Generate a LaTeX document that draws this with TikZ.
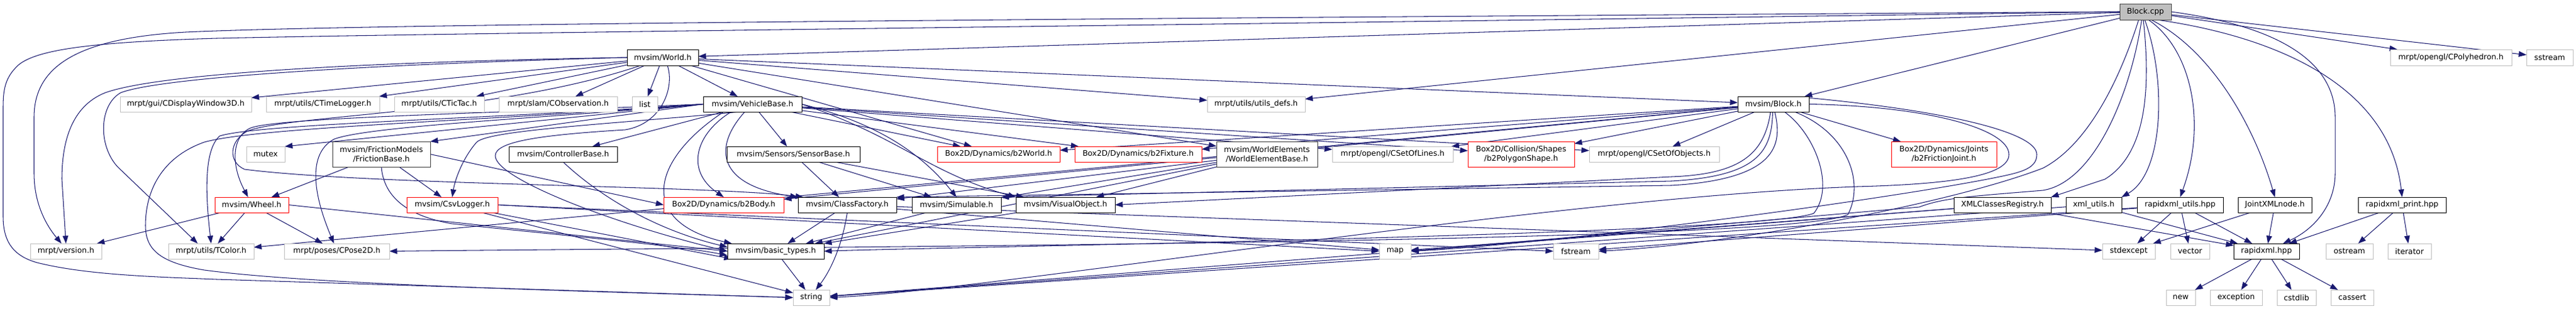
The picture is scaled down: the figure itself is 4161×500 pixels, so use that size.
\documentclass[tikz,border=0pt]{standalone}
\usepackage{fontspec}
\setmainfont{DejaVu Sans}
\usetikzlibrary{arrows.meta,backgrounds}
\definecolor{navy}{HTML}{191970}
\definecolor{lgray}{HTML}{BFBFBF}
\definecolor{dgray}{HTML}{404040}
\newcommand\bx[7]{\node[#1,minimum width={(#4-#3)*0.02cm},minimum height={(#6-#5)*0.02cm}] (#2) at ({(#3+#4)/2},{(#5+#6)/2}) {#7};}
\tikzset{
  nbase/.style={draw, line width=0.55pt, inner sep=0pt, outer sep=0pt, fill=white, align=center, font=\fontsize{7.05}{8.5}\selectfont},
  lbox/.style={nbase, draw=lgray},
  kbox/.style={nbase, draw=black},
  gbox/.style={nbase, draw=dgray},
  rbox/.style={nbase, draw=red},
  root/.style={nbase, draw=dgray, fill=lgray},
  dep/.style={draw=navy, line width=0.6pt, -{Triangle[length=2.5mm,width=1.8mm]}}
}
\begin{document}
\begin{tikzpicture}[x=0.02cm,y=-0.02cm]
\useasboundingbox (0,0) rectangle (4161,500);
% row 0/1
\bx{root}{BC}{3424}{3507}{6}{32}{Block.cpp}
\bx{kbox}{W}{1013}{1128}{80}{106}{mvsim/World.h}
\bx{lbox}{CPH}{3861}{4057}{80}{106}{mrpt/opengl/CPolyhedron.h}
\bx{lbox}{SS}{4081}{4156}{80}{106}{sstream}
% row 2
\bx{lbox}{CDW}{194}{406}{156}{181}{mrpt/gui/CDisplayWindow3D.h}
\bx{lbox}{CTL}{430}{613}{156}{181}{mrpt/utils/CTimeLogger.h}
\bx{lbox}{CTT}{637}{782}{156}{181}{mrpt/utils/CTicTac.h}
\bx{lbox}{COB}{806}{997}{156}{181}{mrpt/slam/CObservation.h}
\bx{lbox}{LST}{1021}{1062}{156}{181}{list}
\bx{kbox}{VB}{1136}{1295}{156}{181}{mvsim/VehicleBase.h}
\bx{lbox}{UD}{1950}{2108}{156}{181}{mrpt/utils/utils\_defs.h}
\bx{kbox}{BH}{2807}{2922}{156}{181}{mvsim/Block.h}
% row 3
\bx{lbox}{MTX}{398}{460}{237}{262}{mutex}
\bx{gbox}{FB}{537}{695}{229}{270}{mvsim/FrictionModels\\/FrictionBase.h}
\bx{kbox}{CB}{822}{997}{237}{262}{mvsim/ControllerBase.h}
\bx{kbox}{SB}{1174}{1389}{237}{262}{mvsim/Sensors/SensorBase.h}
\bx{rbox}{B2W}{1514}{1712}{237}{262}{Box2D/Dynamics/b2World.h}
\bx{rbox}{B2F}{1736}{1941}{237}{262}{Box2D/Dynamics/b2Fixture.h}
\bx{gbox}{WEB}{1965}{2128}{229}{270}{mvsim/WorldElements\\/WorldElementBase.h}
\bx{lbox}{CSL}{2152}{2347}{237}{262}{mrpt/opengl/CSetOfLines.h}
\bx{rbox}{B2P}{2371}{2543}{229}{270}{Box2D/Collision/Shapes\\/b2PolygonShape.h}
\bx{lbox}{CSO}{2567}{2777}{237}{262}{mrpt/opengl/CSetOfObjects.h}
\bx{rbox}{B2J}{3055}{3225}{229}{270}{Box2D/Dynamics/Joints\\/b2FrictionJoint.h}
% row 4
\bx{rbox}{WH}{347}{466}{319}{344}{mvsim/Wheel.h}
\bx{rbox}{CSV}{657}{804}{319}{344}{mvsim/CsvLogger.h}
\bx{rbox}{B2B}{1072}{1266}{319}{344}{Box2D/Dynamics/b2Body.h}
\bx{kbox}{CF}{1289}{1448}{319}{344}{mvsim/ClassFactory.h}
\bx{kbox}{SIM}{1473}{1617}{319}{344}{mvsim/Simulable.h}
\bx{kbox}{VO}{1641}{1801}{319}{344}{mvsim/VisualObject.h}
\bx{kbox}{XCR}{3156}{3313}{319}{344}{XMLClassesRegistry.h}
\bx{kbox}{XU}{3337}{3427}{319}{344}{xml\_utils.h}
\bx{kbox}{RXU}{3452}{3591}{319}{344}{rapidxml\_utils.hpp}
\bx{kbox}{JXN}{3615}{3734}{319}{344}{JointXMLnode.h}
\bx{kbox}{RXP}{3809}{3951}{319}{344}{rapidxml\_print.hpp}
% row 5
\bx{lbox}{VER}{49}{164}{394}{419}{mrpt/version.h}
\bx{lbox}{TC}{272}{410}{394}{419}{mrpt/utils/TColor.h}
\bx{lbox}{CP}{459}{629}{394}{419}{mrpt/poses/CPose2D.h}
\bx{kbox}{BT}{1175}{1331}{394}{419}{mvsim/basic\_types.h}
\bx{lbox}{MAP}{2228}{2279}{394}{419}{map}
\bx{lbox}{FS}{2509}{2582}{394}{419}{fstream}
\bx{lbox}{SE}{3396}{3481}{394}{419}{stdexcept}
\bx{lbox}{VEC}{3506}{3569}{394}{419}{vector}
\bx{kbox}{RX}{3608}{3714}{394}{419}{rapidxml.hpp}
\bx{lbox}{OS}{3757}{3833}{394}{419}{ostream}
\bx{lbox}{IT}{3857}{3927}{394}{419}{iterator}
% row 6
\bx{lbox}{STR}{1281}{1340}{469}{494}{string}
\bx{lbox}{NEW}{3499}{3546}{469}{494}{new}
\bx{lbox}{EXC}{3570}{3654}{469}{494}{exception}
\bx{lbox}{CSTD}{3678}{3741}{469}{494}{cstdlib}
\bx{lbox}{CAS}{3765}{3834}{469}{494}{cassert}

\begin{pgfonlayer}{background}
\fill[white] (0,0) rectangle (4161,500);
% ---- Block.cpp
\draw[dep] (BC) -- (W);
\draw[dep] (BC) -- (BH);
\draw[dep] (BC) -- (UD);
\draw[dep] (BC) -- (CPH);
\draw[dep] (BC) -- (SS);
\draw[dep] (BC.west) .. controls (1800,30) and (600,38) .. (300,52) .. controls (120,62) and (55,110) .. (55,190) -- (55,280) .. controls (55,330) and (75,365) .. (VER.120);
\draw[dep] (BC.west) .. controls (2000,40) and (800,52) .. (350,62) .. controls (150,68) and (60,80) .. (30,105) .. controls (8,125) and (5,145) .. (5,175) -- (5,350) .. controls (5,395) and (25,415) .. (60,425) .. controls (140,445) and (250,448) .. (350,452) -- (STR.west);
\draw[dep] (BC.-130) .. controls (3430,110) and (3380,230) .. (3300,272) .. controls (3150,330) and (2800,395) .. (FS.east);
\draw[dep] (BC.-115) .. controls (3440,160) and (3380,295) .. (3300,308) .. controls (3180,318) and (3140,320) .. (3100,335) -- (MAP.east);
\draw[dep] (BC.-105) .. controls (3475,150) and (3465,250) .. (3400,290) -- (XCR.north east);
\draw[dep] (BC.-95) .. controls (3500,130) and (3495,280) .. (XU.north east);
\draw[dep] (BC.-70) .. controls (3540,80) and (3565,200) .. (RXU.north);
\draw[dep] (BC.-55) .. controls (3570,80) and (3640,200) .. (JXN.north);
\draw[dep] (BC.-35) .. controls (3680,60) and (3860,140) .. (RXP.north);
\draw[dep] (BC.east) .. controls (3700,45) and (3772,110) .. (3772,190) -- (3772,280) .. controls (3772,330) and (3740,370) .. (RX.25);
% ---- World.h
\draw[dep] (W) -- (CDW);
\draw[dep] (W) -- (CTL);
\draw[dep] (W) -- (CTT);
\draw[dep] (W) -- (COB);
\draw[dep] (W) -- (LST);
\draw[dep] (W) -- (VB);
\draw[dep] (W) -- (UD);
\draw[dep] (W) -- (BH);
\draw[dep] (W) -- (WEB);
\draw[dep] (W) -- (B2W);
\draw[dep] (W.west) .. controls (600,100) and (260,118) .. (170,150) .. controls (115,172) and (100,230) .. (100,290) -- (VER.north);
\draw[dep] (W.west) .. controls (600,104) and (260,125) .. (195,150) .. controls (160,170) and (158,235) .. (190,270) -- (TC.150);
\draw[dep] (W.-60) .. controls (1090,140) and (1070,200) .. (1010,210) .. controls (880,218) and (800,228) .. (800,252) .. controls (800,290) and (1000,365) .. (BT.west);
\draw[dep] (W.200) .. controls (800,185) and (470,185) .. (400,212) .. controls (370,228) and (368,262) .. (395,274) .. controls (600,300) and (1150,300) .. (CF.170);
% ---- VehicleBase.h
\draw[dep] (VB.west) -- (MTX.north east);
\draw[dep] (VB.west) -- (FB.north east);
\draw[dep] (VB) -- (CB);
\draw[dep] (VB) -- (SB);
\draw[dep] (VB) -- (B2W);
\draw[dep] (VB) -- (B2F);
\draw[dep] (VB) -- (CSL);
\draw[dep] (VB) -- (B2P);
\draw[dep] (VB) -- (CSO);
\draw[dep] (VB.east) .. controls (1420,200) and (1490,250) .. (SIM.north);
\draw[dep] (VB.east) .. controls (1450,220) and (1500,280) .. (VO.north west);
\draw[dep] (VB.west) .. controls (800,183) and (450,190) .. (405,207) .. controls (375,220) and (372,265) .. (WH.115);
\draw[dep] (VB.west) .. controls (900,190) and (600,203) .. (540,225) .. controls (502,245) and (500,300) .. (CP.110);
\draw[dep] (VB.west) .. controls (800,192) and (420,200) .. (355,220) .. controls (332,240) and (330,300) .. (TC.north);
\draw[dep] (VB.west) .. controls (800,195) and (420,205) .. (330,230) .. controls (260,255) and (235,310) .. (235,365) .. controls (235,405) and (260,425) .. (330,437) .. controls (500,460) and (900,470) .. (STR.west);
\draw[dep] (VB.210) .. controls (1000,200) and (790,210) .. (770,230) .. controls (748,255) and (735,290) .. (CSV.north);
\draw[dep] (VB.200) .. controls (1125,215) and (1105,275) .. (B2B.north);
\draw[dep] (VB.225) .. controls (1150,240) and (1160,300) .. (CF.north west);
\draw[dep] (VB.195) .. controls (1050,260) and (1030,360) .. (BT.170);
% ---- FrictionBase.h
\draw[dep] (FB) -- (WH);
\draw[dep] (FB) -- (CSV);
\draw[dep] (FB.east) -- (B2B.west);
\draw[dep] (FB.south) .. controls (620,320) and (660,350) .. (730,362) .. controls (900,380) and (1100,398) .. (BT.185);
% ---- ControllerBase.h, SensorBase.h, WorldElementBase.h
\draw[dep] (CB.south) .. controls (960,310) and (1050,370) .. (BT.175);
\draw[dep] (SB) -- (CF);
\draw[dep] (SB) -- (SIM);
\draw[dep] (SB) -- (VO);
\draw[dep] (WEB) -- (VO);
\draw[dep] (WEB) -- (CF);
\draw[dep] (WEB) -- (SIM);
\draw[dep] (WEB) -- (BT);
% ---- Block.h
\draw[dep] (BH) -- (B2W);
\draw[dep] (BH) -- (B2F);
\draw[dep] (BH) -- (CSL);
\draw[dep] (BH) -- (B2P);
\draw[dep] (BH) -- (CSO);
\draw[dep] (BH) -- (B2J);
\draw[dep] (BH) -- (B2B);
\draw[dep] (BH) -- (TC);
\draw[dep] (BH.250) .. controls (2850,250) and (2810,282) .. (2700,286) -- (VO.east);
\draw[dep] (BH.265) .. controls (2862,245) and (2840,285) .. (2700,293) -- (SIM.north east);
\draw[dep] (BH.280) .. controls (2880,235) and (2870,290) .. (2700,300) -- (CF.north east);
\draw[dep] (BH.-35) .. controls (2930,215) and (2965,300) .. (2930,345) .. controls (2850,380) and (1500,400) .. (BT.east);
\draw[dep] (BH.-20) .. controls (2985,215) and (3012,295) .. (2985,347) .. controls (2900,395) and (1200,400) .. (CP.east);
\draw[dep] (BH.east) .. controls (3120,172) and (3245,210) .. (3245,250) .. controls (3245,285) and (3150,298) .. (3000,302) .. controls (2500,320) and (1600,470) .. (STR.east);
\draw[dep] (BH.10) .. controls (3150,180) and (3290,215) .. (3290,250) .. controls (3290,275) and (3260,280) .. (3210,290) .. controls (3000,330) and (2500,395) .. (MAP.east);
% ---- Wheel.h, CsvLogger.h
\draw[dep] (WH) -- (VER);
\draw[dep] (WH) -- (TC);
\draw[dep] (WH) -- (CP);
\draw[dep] (WH.east) -- (BT.west);
\draw[dep] (CSV) -- (BT.190);
\draw[dep] (CSV) -- (STR);
\draw[dep] (CSV.east) -- (MAP.west);
\draw[dep] (CSV.east) -- (FS.west);
% ---- ClassFactory, Simulable, VisualObject, basic_types
\draw[dep] (CF) -- (BT);
\draw[dep] (CF.south) .. controls (1360,400) and (1340,440) .. (STR.60);
\draw[dep] (CF) -- (MAP);
\draw[dep] (CF) -- (SE);
\draw[dep] (SIM) -- (BT);
\draw[dep] (VO) -- (BT);
\draw[dep] (BT) -- (STR);
% ---- XML side
\draw[dep] (XCR) -- (RX);
\draw[dep] (XCR) -- (STR);
\draw[dep] (XCR) -- (MAP);
\draw[dep] (XU) -- (RX);
\draw[dep] (XU) -- (STR);
\draw[dep] (RXU) -- (RX);
\draw[dep] (RXU) -- (VEC);
\draw[dep] (RXU) -- (SE);
\draw[dep] (RXU) -- (FS);
\draw[dep] (RXU) -- (STR);
\draw[dep] (JXN) -- (RX);
\draw[dep] (JXN) -- (SE);
\draw[dep] (RXP) -- (RX);
\draw[dep] (RXP) -- (OS);
\draw[dep] (RXP) -- (IT);
\draw[dep] (RX) -- (NEW);
\draw[dep] (RX) -- (EXC);
\draw[dep] (RX) -- (CSTD);
\draw[dep] (RX) -- (CAS);
\end{pgfonlayer}
\end{tikzpicture}
\end{document}
